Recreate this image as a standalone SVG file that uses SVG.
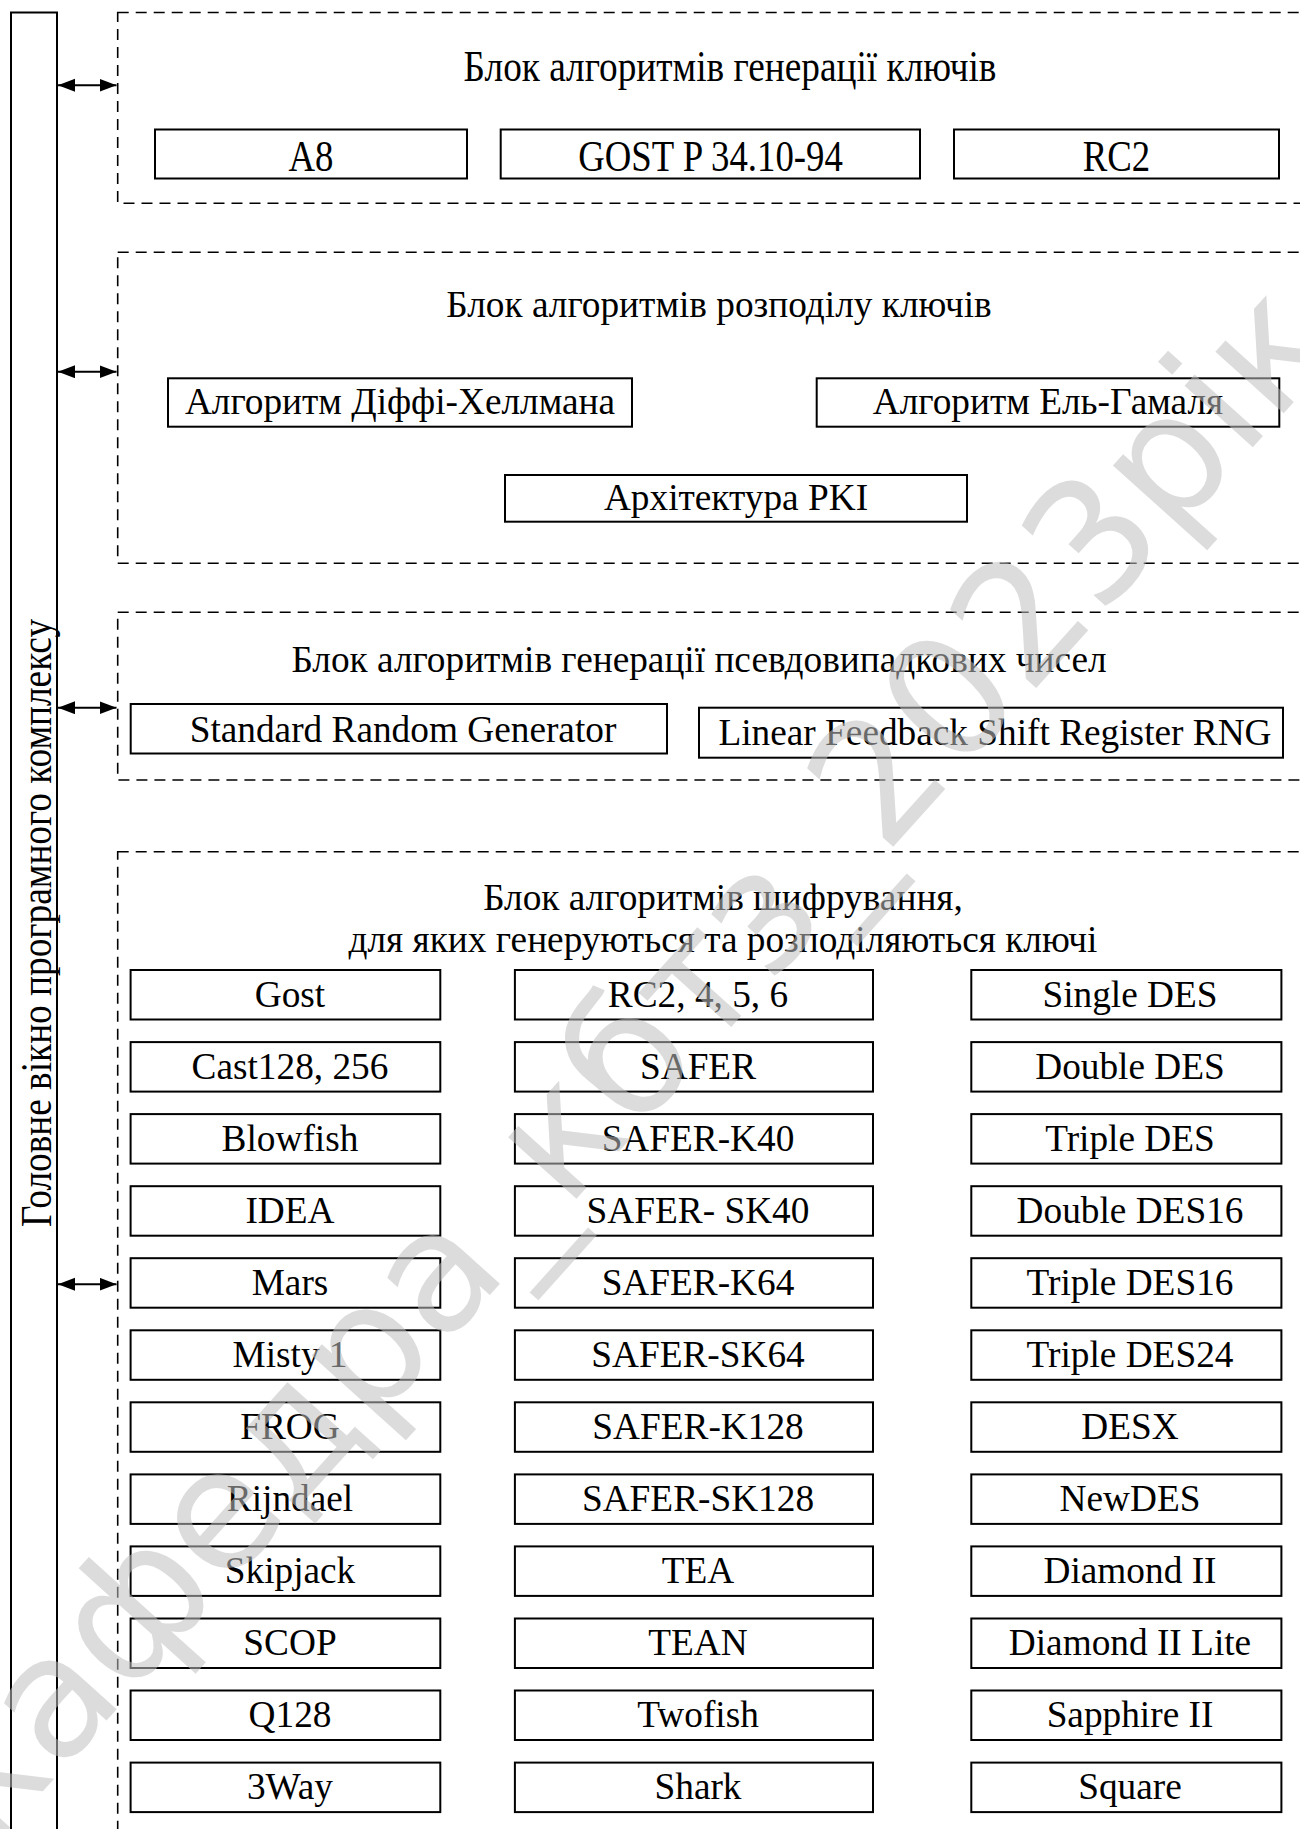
<svg xmlns="http://www.w3.org/2000/svg" width="1300" height="1829" viewBox="0 0 1300 1829">
<defs>
<style>
.t{font-family:"Liberation Serif","Times New Roman",serif;font-size:37.3px;fill:#000;text-anchor:middle}
.box{fill:#fff;stroke:#000;stroke-width:2}
.grp{fill:none;stroke:#000;stroke-width:1.6;stroke-dasharray:11 7}
.bar{fill:#fff;stroke:#000;stroke-width:2}
.link{fill:none;stroke:#000;stroke-width:2}
.wm{font-family:"DejaVu Sans",sans-serif;font-size:168px;fill:#bfbfbf;fill-opacity:0.55}
</style>
<marker id="ah" markerUnits="userSpaceOnUse" markerWidth="18" markerHeight="14" refX="17" refY="6.5" orient="auto-start-reverse"><path d="M0,0 L17,6.5 L0,13 z" fill="#000"/></marker>
</defs>
<rect width="1300" height="1829" fill="#fff"/>

<!-- main window strip on the left -->
<g id="main-window">
<path class="bar" d="M11,1845 V12.5 H57 V1845"/>
<text class="t" transform="translate(50.5,923) rotate(-90) scale(1,1.16)">Головне вікно програмного комплексу</text>
</g>

<!-- block: key generation -->
<g id="blk-keygen">
<rect class="grp" x="117.7" y="12.5" width="1200" height="190.8"/>
<text class="t" transform="translate(730,81) scale(1,1.18)">Блок алгоритмів генерації ключів</text>
</g>
<g id="n-a8"><rect class="box" x="155" y="129.5" width="312" height="49"/><text class="t" style="font-size:36.8px" transform="translate(311,170.5) scale(1,1.18)">A8</text></g>
<g id="n-gost-r"><rect class="box" x="500.7" y="129.5" width="419.3" height="49"/><text class="t" style="font-size:36.8px" transform="translate(710.5,170.5) scale(1,1.18)">GOST P 34.10-94</text></g>
<g id="n-rc2-gen"><rect class="box" x="954" y="129.5" width="325" height="49"/><text class="t" style="font-size:36.8px" transform="translate(1116.4,170.5) scale(1,1.18)">RC2</text></g>

<!-- block: key distribution -->
<g id="blk-keydist">
<rect class="grp" x="117.7" y="252.3" width="1200" height="311"/>
<text class="t" x="719" y="317">Блок алгоритмів розподілу ключів</text>
</g>
<g id="n-dh"><rect class="box" x="168" y="378.3" width="464" height="48.4"/><text class="t" x="400" y="414">Алгоритм Діффі-Хеллмана</text></g>
<g id="n-elgamal"><rect class="box" x="816.7" y="378.3" width="462.6" height="48.4"/><text class="t" x="1048" y="414">Алгоритм Ель-Гамаля</text></g>
<g id="n-pki"><rect class="box" x="505" y="475" width="462" height="46.7"/><text class="t" x="736" y="510">Архітектура PKI</text></g>

<!-- block: pseudo-random number generation -->
<g id="blk-prng">
<rect class="grp" x="117.7" y="612.3" width="1200" height="167.7"/>
<text class="t" x="699" y="672">Блок алгоритмів генерації псевдовипадкових чисел</text>
</g>
<g id="n-std-rng"><rect class="box" x="130.7" y="704" width="536.3" height="49.5"/><text class="t" x="403" y="742">Standard Random Generator</text></g>
<g id="n-lfsr"><rect class="box" x="699" y="707.7" width="584" height="50"/><text class="t" x="995" y="745">Linear Feedback Shift Register RNG</text></g>

<!-- block: ciphers -->
<g id="blk-ciphers">
<rect class="grp" x="117.7" y="851.7" width="1200" height="1000"/>
<text class="t" x="723" y="910">Блок алгоритмів шифрування,</text>
<text class="t" x="723" y="951.5">для яких генеруються та розподіляються ключі</text>
</g>

<!-- column 1 -->
<g id="c-gost"><rect class="box" x="130.6" y="970" width="309.7" height="49.5"/><text class="t" x="290" y="1006.5">Gost</text></g>
<g id="c-cast"><rect class="box" x="130.6" y="1042.1" width="309.7" height="49.5"/><text class="t" x="290" y="1078.6">Cast128, 256</text></g>
<g id="c-blowfish"><rect class="box" x="130.6" y="1114.1" width="309.7" height="49.5"/><text class="t" x="290" y="1150.6">Blowfish</text></g>
<g id="c-idea"><rect class="box" x="130.6" y="1186.2" width="309.7" height="49.5"/><text class="t" x="290" y="1222.7">IDEA</text></g>
<g id="c-mars"><rect class="box" x="130.6" y="1258.2" width="309.7" height="49.5"/><text class="t" x="290" y="1294.7">Mars</text></g>
<g id="c-misty"><rect class="box" x="130.6" y="1330.3" width="309.7" height="49.5"/><text class="t" x="290" y="1366.8">Misty 1</text></g>
<g id="c-frog"><rect class="box" x="130.6" y="1402.3" width="309.7" height="49.5"/><text class="t" x="290" y="1438.8">FROG</text></g>
<g id="c-rijndael"><rect class="box" x="130.6" y="1474.4" width="309.7" height="49.5"/><text class="t" x="290" y="1510.9">Rijndael</text></g>
<g id="c-skipjack"><rect class="box" x="130.6" y="1546.4" width="309.7" height="49.5"/><text class="t" x="290" y="1582.9">Skipjack</text></g>
<g id="c-scop"><rect class="box" x="130.6" y="1618.5" width="309.7" height="49.5"/><text class="t" x="290" y="1655">SCOP</text></g>
<g id="c-q128"><rect class="box" x="130.6" y="1690.5" width="309.7" height="49.5"/><text class="t" x="290" y="1727">Q128</text></g>
<g id="c-3way"><rect class="box" x="130.6" y="1762.6" width="309.7" height="49.5"/><text class="t" x="290" y="1799.1">3Way</text></g>

<!-- column 2 -->
<g id="c-rc"><rect class="box" x="514.9" y="970" width="358.1" height="49.5"/><text class="t" x="698" y="1006.5">RC2, 4, 5, 6</text></g>
<g id="c-safer"><rect class="box" x="514.9" y="1042.1" width="358.1" height="49.5"/><text class="t" x="698" y="1078.6">SAFER</text></g>
<g id="c-safer-k40"><rect class="box" x="514.9" y="1114.1" width="358.1" height="49.5"/><text class="t" x="698" y="1150.6">SAFER-K40</text></g>
<g id="c-safer-sk40"><rect class="box" x="514.9" y="1186.2" width="358.1" height="49.5"/><text class="t" x="698" y="1222.7">SAFER- SK40</text></g>
<g id="c-safer-k64"><rect class="box" x="514.9" y="1258.2" width="358.1" height="49.5"/><text class="t" x="698" y="1294.7">SAFER-K64</text></g>
<g id="c-safer-sk64"><rect class="box" x="514.9" y="1330.3" width="358.1" height="49.5"/><text class="t" x="698" y="1366.8">SAFER-SK64</text></g>
<g id="c-safer-k128"><rect class="box" x="514.9" y="1402.3" width="358.1" height="49.5"/><text class="t" x="698" y="1438.8">SAFER-K128</text></g>
<g id="c-safer-sk128"><rect class="box" x="514.9" y="1474.4" width="358.1" height="49.5"/><text class="t" x="698" y="1510.9">SAFER-SK128</text></g>
<g id="c-tea"><rect class="box" x="514.9" y="1546.4" width="358.1" height="49.5"/><text class="t" x="698" y="1582.9">TEA</text></g>
<g id="c-tean"><rect class="box" x="514.9" y="1618.5" width="358.1" height="49.5"/><text class="t" x="698" y="1655">TEAN</text></g>
<g id="c-twofish"><rect class="box" x="514.9" y="1690.5" width="358.1" height="49.5"/><text class="t" x="698" y="1727">Twofish</text></g>
<g id="c-shark"><rect class="box" x="514.9" y="1762.6" width="358.1" height="49.5"/><text class="t" x="698" y="1799.1">Shark</text></g>

<!-- column 3 -->
<g id="c-des"><rect class="box" x="971.3" y="970" width="310.1" height="49.5"/><text class="t" x="1130" y="1006.5">Single DES</text></g>
<g id="c-2des"><rect class="box" x="971.3" y="1042.1" width="310.1" height="49.5"/><text class="t" x="1130" y="1078.6">Double DES</text></g>
<g id="c-3des"><rect class="box" x="971.3" y="1114.1" width="310.1" height="49.5"/><text class="t" x="1130" y="1150.6">Triple DES</text></g>
<g id="c-2des16"><rect class="box" x="971.3" y="1186.2" width="310.1" height="49.5"/><text class="t" x="1130" y="1222.7">Double DES16</text></g>
<g id="c-3des16"><rect class="box" x="971.3" y="1258.2" width="310.1" height="49.5"/><text class="t" x="1130" y="1294.7">Triple DES16</text></g>
<g id="c-3des24"><rect class="box" x="971.3" y="1330.3" width="310.1" height="49.5"/><text class="t" x="1130" y="1366.8">Triple DES24</text></g>
<g id="c-desx"><rect class="box" x="971.3" y="1402.3" width="310.1" height="49.5"/><text class="t" x="1130" y="1438.8">DESX</text></g>
<g id="c-newdes"><rect class="box" x="971.3" y="1474.4" width="310.1" height="49.5"/><text class="t" x="1130" y="1510.9">NewDES</text></g>
<g id="c-diamond"><rect class="box" x="971.3" y="1546.4" width="310.1" height="49.5"/><text class="t" x="1130" y="1582.9">Diamond II</text></g>
<g id="c-diamond-lite"><rect class="box" x="971.3" y="1618.5" width="310.1" height="49.5"/><text class="t" x="1130" y="1655">Diamond II Lite</text></g>
<g id="c-sapphire"><rect class="box" x="971.3" y="1690.5" width="310.1" height="49.5"/><text class="t" x="1130" y="1727">Sapphire II</text></g>
<g id="c-square"><rect class="box" x="971.3" y="1762.6" width="310.1" height="49.5"/><text class="t" x="1130" y="1799.1">Square</text></g>

<!-- two-way links between the main window and each block -->
<g id="connectors">
<path class="link" d="M58,85.3 H116.5" marker-start="url(#ah)" marker-end="url(#ah)"/>
<path class="link" d="M58,371.7 H116.5" marker-start="url(#ah)" marker-end="url(#ah)"/>
<path class="link" d="M58,707.7 H116.5" marker-start="url(#ah)" marker-end="url(#ah)"/>
<path class="link" d="M58,1284.2 H116.5" marker-start="url(#ah)" marker-end="url(#ah)"/>
</g>

<!-- diagonal watermark -->
<text class="wm" transform="translate(-10,1850) rotate(-48)">кафедра_кбтз_2023рік</text>
</svg>
